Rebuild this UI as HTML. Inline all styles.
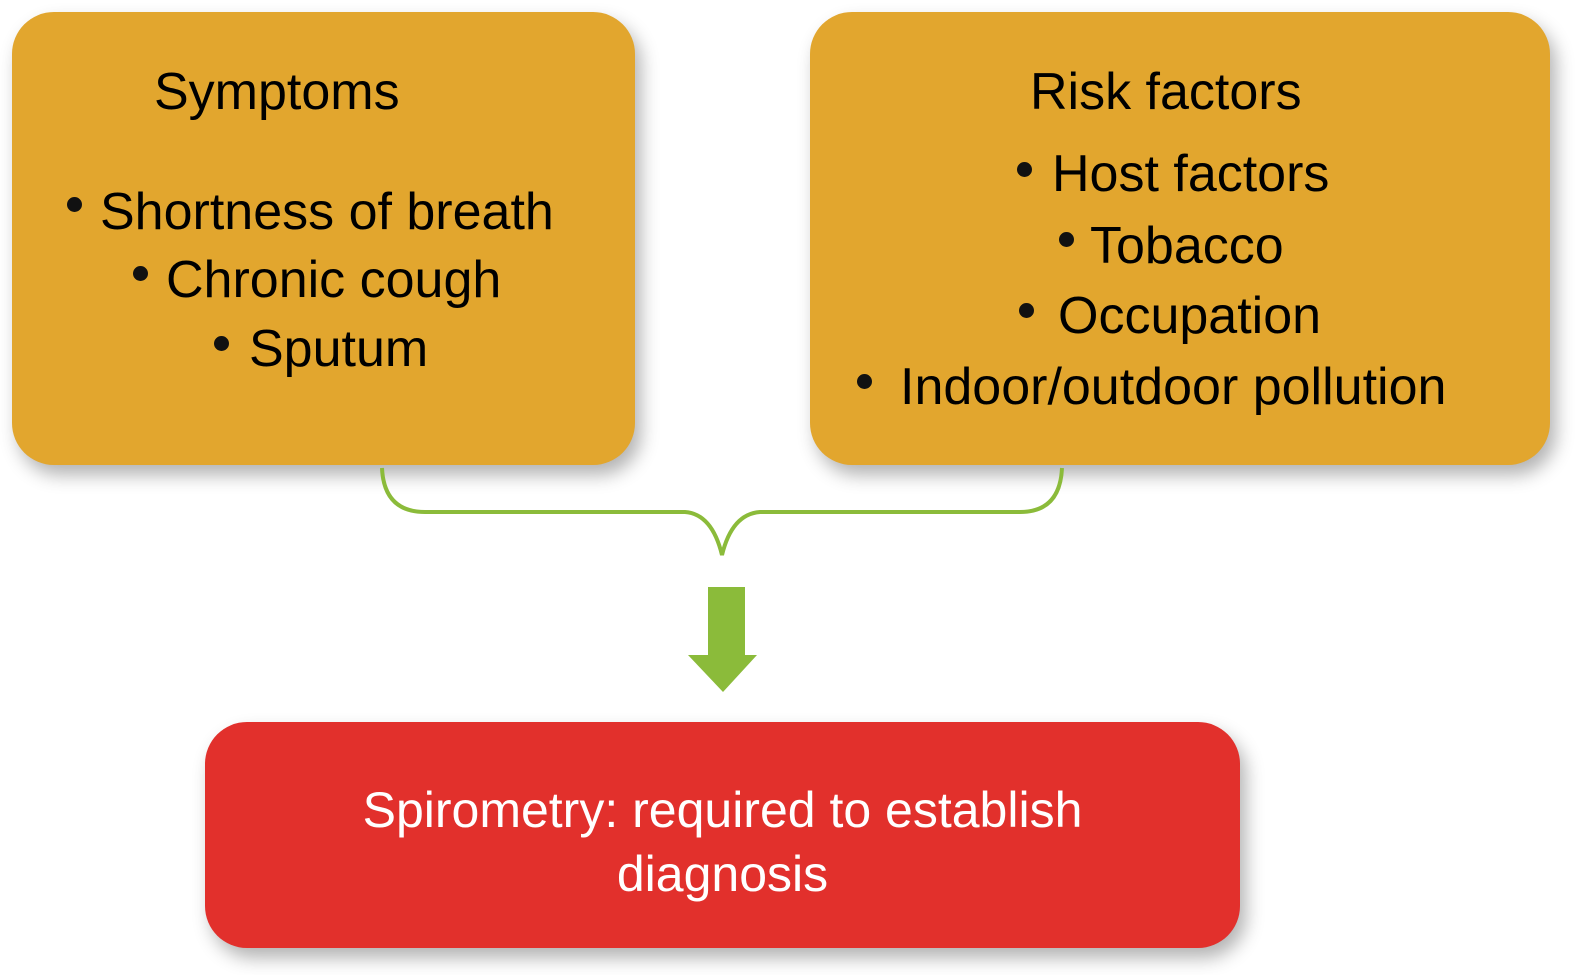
<!DOCTYPE html>
<html><head><style>
body{margin:0;width:1583px;height:975px;background:#fff;position:relative;overflow:hidden;font-family:"Liberation Sans",sans-serif}
.box{position:absolute;background:#E2A62E;border-radius:42px;box-shadow:6px 10px 18px rgba(0,0,0,0.3);color:#111}
.t{position:absolute;white-space:nowrap;font-size:52px;line-height:1}
.b{position:absolute;width:15px;height:15px;border-radius:50%;background:#111}
</style></head><body>
<div class="box" style="left:12px;top:12px;width:623px;height:453px"></div>
<div class="box" style="left:810px;top:12px;width:740px;height:453px"></div>
<div class="box" style="left:205px;top:722px;width:1035px;height:226px;background:#E2302C"></div>
<svg style="position:absolute;left:0;top:0" width="1583" height="975">
<path d="M382 468 Q384 512 425 512 L685 512 Q712 514 722 555 Q732 514 760 512 L1020 512 Q1060 512 1062 468" fill="none" stroke="#8BBB3A" stroke-width="4"/>
<path d="M708 587 H745 V655 H757 L723 692 L688 655 H708 Z" fill="#8BBB3A"/>
</svg>
<div class="t" style="left:154px;top:66px">Symptoms</div>
<div class="b" style="left:67px;top:197px"></div><div class="t" style="left:100px;top:186px">Shortness of breath</div>
<div class="b" style="left:133px;top:266px"></div><div class="t" style="left:166px;top:254px">Chronic cough</div>
<div class="b" style="left:214px;top:336px"></div><div class="t" style="left:249px;top:323px">Sputum</div>
<div class="t" style="left:1030px;top:66px">Risk factors</div>
<div class="b" style="left:1017px;top:162px"></div><div class="t" style="left:1052px;top:148px">Host factors</div>
<div class="b" style="left:1059px;top:232px"></div><div class="t" style="left:1090px;top:220px">Tobacco</div>
<div class="b" style="left:1019px;top:303px"></div><div class="t" style="left:1058px;top:290px">Occupation</div>
<div class="b" style="left:857px;top:374px"></div><div class="t" style="left:900px;top:361px">Indoor/outdoor pollution</div>
<div class="t" style="left:205px;width:1035px;top:778px;text-align:center;color:#fff;font-size:50px;line-height:64px;white-space:normal">Spirometry: required to establish<br>diagnosis</div>
</body></html>
